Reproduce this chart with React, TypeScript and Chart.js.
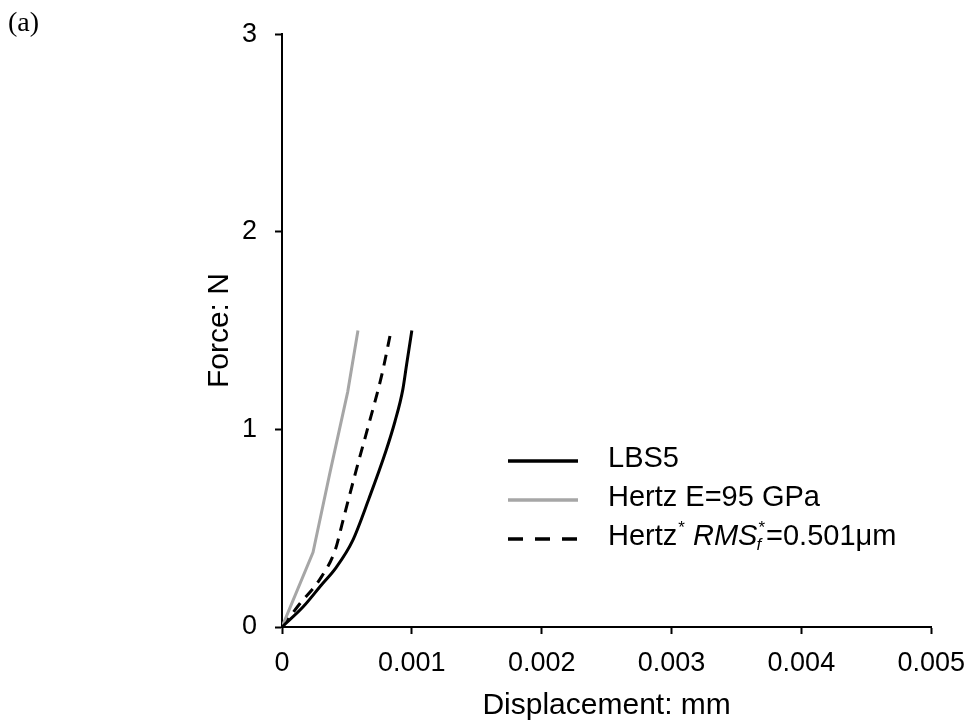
import { useEffect, useRef } from "react";
import { Chart, registerables } from "chart.js";

Chart.register(...registerables);

// Displacement (mm) / Force (N) readings
const lbs5X = [0, 0.000163, 0.0003, 0.000418, 0.000544, 0.000672, 0.000799, 0.00087, 0.00093, 0.00096, 0.001];
const lbs5Y = [0, 0.102, 0.21, 0.302, 0.437, 0.654, 0.888, 1.04, 1.2, 1.33, 1.5];

const hertzX = [0, 0.000239, 0.000366, 0.000506, 0.000585];
const hertzY = [0, 0.378, 0.771, 1.19, 1.5];

const hertzStarX = [0, 0.00014, 0.00029, 0.00041, 0.00047, 0.00057, 0.00067, 0.00077, 0.00084];
const hertzStarY = [0, 0.12, 0.24, 0.39, 0.54, 0.79, 1.03, 1.28, 1.5];

const seriesLabels = ["LBS5", "Hertz E=95 GPa", "Hertz* RMSf*=0.501μm"];
const xTitle = "Displacement: mm";
const yTitle = "Force: N";
const panelLabel = "(a)";

const SANS = "'Liberation Sans', Arial, sans-serif";
const SERIF = "'Liberation Serif', 'Times New Roman', serif";
const GRAY = "#a6a6a6";

const toPoints = (xs: number[], ys: number[]) => xs.map((x, i) => ({ x, y: ys[i] }));

const overlayPlugin = {
  id: "overlay",
  afterDraw(chart: any) {
    const ctx: CanvasRenderingContext2D = chart.ctx;
    ctx.save();
    // panel label
    ctx.fillStyle = "#000";
    ctx.font = `28px ${SERIF}`;
    ctx.textBaseline = "alphabetic";
    ctx.textAlign = "left";
    ctx.fillText(panelLabel, 8, 31);

    // legend
    const lx0 = 508, lx1 = 578, tx = 608;
    const rowsY = [461, 500, 539];
    const styles = [
      { color: "#000", dash: [] as number[] },
      { color: GRAY, dash: [] as number[] },
      { color: "#000", dash: [15, 12] },
    ];
    rowsY.forEach((y, i) => {
      ctx.beginPath();
      ctx.setLineDash(styles[i].dash);
      ctx.strokeStyle = styles[i].color;
      ctx.lineWidth = 3.5;
      ctx.lineCap = "butt";
      ctx.moveTo(lx0, y);
      ctx.lineTo(lx1, y);
      ctx.stroke();
    });
    ctx.setLineDash([]);
    ctx.fillStyle = "#000";
    const big = `29px ${SANS}`;
    const small = `17px ${SANS}`;
    const bigI = `italic 29px ${SANS}`;
    const smallI = `italic 17px ${SANS}`;
    ctx.font = big;
    ctx.fillText(seriesLabels[0], tx, rowsY[0] + 6);
    ctx.fillText(seriesLabels[1], tx, rowsY[1] + 6);
    // rich third label
    const b = rowsY[2] + 6;
    let x = tx;
    ctx.font = big;
    ctx.fillText("Hertz", x, b);
    x += ctx.measureText("Hertz").width;
    ctx.font = small;
    ctx.fillText("*", x + 1, b - 12);
    x += ctx.measureText("*").width + 1;
    ctx.font = big;
    x += ctx.measureText(" ").width;
    ctx.font = bigI;
    ctx.fillText("RMS", x, b);
    x += ctx.measureText("RMS").width;
    ctx.font = smallI;
    ctx.fillText("f", x - 1, b + 5);
    const wf = ctx.measureText("f").width;
    ctx.font = small;
    ctx.fillText("*", x + 1, b - 12);
    const ws = ctx.measureText("*").width;
    x += Math.max(wf, ws + 1) + 1;
    ctx.font = big;
    ctx.fillText("=0.501μm", x, b);
    ctx.restore();
  },
};

export default function App() {
  const ref = useRef<HTMLCanvasElement>(null);
  useEffect(() => {
    if (!ref.current) return;
    const chart = new Chart(ref.current, {
      type: "line",
      data: {
        datasets: [
          {
            label: seriesLabels[0],
            data: toPoints(lbs5X, lbs5Y),
            borderColor: "#000",
            borderWidth: 3,
            pointRadius: 0,
            cubicInterpolationMode: "monotone",
            fill: false,
          },
          {
            label: seriesLabels[1],
            data: toPoints(hertzX, hertzY),
            borderColor: GRAY,
            borderWidth: 3,
            pointRadius: 0,
            tension: 0,
            fill: false,
          },
          {
            label: seriesLabels[2],
            data: toPoints(hertzStarX, hertzStarY),
            borderColor: "#000",
            borderWidth: 3,
            borderDash: [11, 8],
            pointRadius: 0,
            cubicInterpolationMode: "monotone",
            fill: false,
          },
        ],
      },
      options: {
        responsive: false,
        animation: false,
        layout: { padding: { top: 29, right: 41, left: 0, bottom: 0 } },
        plugins: { legend: { display: false }, tooltip: { enabled: false } },
        scales: {
          x: {
            type: "linear",
            min: 0,
            max: 0.005,
            afterFit: (s: any) => {
              s.height = 99;
            },
            ticks: {
              stepSize: 0.001,
              color: "#000",
              padding: 13,
              font: { family: SANS, size: 27 },
              callback: (v: any) => (Number(v) === 0 ? "0" : Number(v).toFixed(3)),
            },
            grid: { drawOnChartArea: false, drawTicks: true, tickLength: 7, tickColor: "#000", tickWidth: 2 },
            border: { display: true, color: "#000", width: 2 },
            title: {
              display: true,
              text: xTitle,
              color: "#000",
              font: { family: SANS, size: 30 },
              padding: { top: 0, bottom: 2 },
            },
          },
          y: {
            type: "linear",
            min: 0,
            max: 3,
            afterFit: (s: any) => {
              s.width = 282;
            },
            ticks: {
              stepSize: 1,
              color: "#000",
              padding: 18,
              font: { family: SANS, size: 27 },
              callback: (v: any) => String(v),
            },
            grid: { drawOnChartArea: false, drawTicks: true, tickLength: 7, tickColor: "#000", tickWidth: 2 },
            border: { display: true, color: "#000", width: 2 },
            title: {
              display: true,
              text: yTitle,
              color: "#000",
              font: { family: SANS, size: 30 },
              padding: { top: 202, bottom: 0 },
            },
          },
        },
      },
      plugins: [overlayPlugin],
    });
    return () => chart.destroy();
  }, []);
  return (
    <div style={{ position: "absolute", left: 0, top: 0, width: 978, height: 726, background: "#fff" }}>
      <canvas ref={ref} width={978} height={726} style={{ display: "block" }} />
    </div>
  );
}
